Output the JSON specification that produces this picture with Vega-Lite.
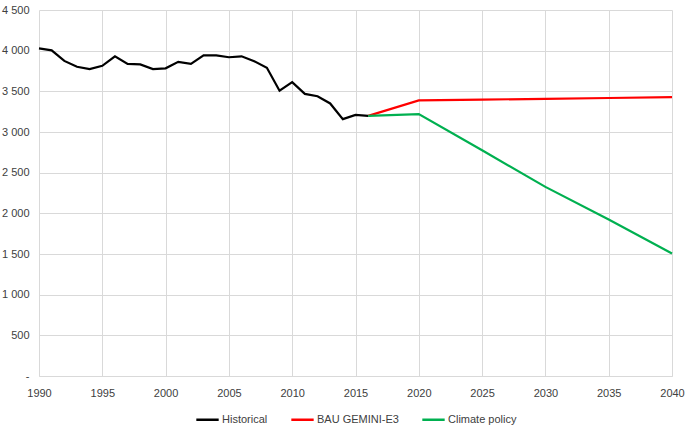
{
  "$schema": "https://vega.github.io/schema/vega-lite/v6.json",
  "width": 685,
  "height": 425,
  "autosize": {"type": "fit", "contains": "padding"},
  "padding": {"left": 1, "top": 4, "right": 0, "bottom": 0},
  "background": "white",
  "config": {
    "font": "Liberation Sans",
    "view": {"stroke": null},
    "legend": {"layout": {"bottom": {"anchor": "middle"}}}
  },
  "data": {
    "values": [
      {"year": 1990, "value": 4028, "series": "Historical"},
      {"year": 1991, "value": 4004, "series": "Historical"},
      {"year": 1992, "value": 3874, "series": "Historical"},
      {"year": 1993, "value": 3802, "series": "Historical"},
      {"year": 1994, "value": 3774, "series": "Historical"},
      {"year": 1995, "value": 3814, "series": "Historical"},
      {"year": 1996, "value": 3931, "series": "Historical"},
      {"year": 1997, "value": 3838, "series": "Historical"},
      {"year": 1998, "value": 3831, "series": "Historical"},
      {"year": 1999, "value": 3774, "series": "Historical"},
      {"year": 2000, "value": 3783, "series": "Historical"},
      {"year": 2001, "value": 3862, "series": "Historical"},
      {"year": 2002, "value": 3838, "series": "Historical"},
      {"year": 2003, "value": 3943, "series": "Historical"},
      {"year": 2004, "value": 3943, "series": "Historical"},
      {"year": 2005, "value": 3919, "series": "Historical"},
      {"year": 2006, "value": 3931, "series": "Historical"},
      {"year": 2007, "value": 3871, "series": "Historical"},
      {"year": 2008, "value": 3790, "series": "Historical"},
      {"year": 2009, "value": 3508, "series": "Historical"},
      {"year": 2010, "value": 3613, "series": "Historical"},
      {"year": 2011, "value": 3469, "series": "Historical"},
      {"year": 2012, "value": 3440, "series": "Historical"},
      {"year": 2013, "value": 3351, "series": "Historical"},
      {"year": 2014, "value": 3158, "series": "Historical"},
      {"year": 2015, "value": 3210, "series": "Historical"},
      {"year": 2016, "value": 3198, "series": "Historical"},
      {"year": 2016, "value": 3198, "series": "BAU GEMINI-E3"},
      {"year": 2020, "value": 3388, "series": "BAU GEMINI-E3"},
      {"year": 2025, "value": 3398, "series": "BAU GEMINI-E3"},
      {"year": 2030, "value": 3408, "series": "BAU GEMINI-E3"},
      {"year": 2035, "value": 3418, "series": "BAU GEMINI-E3"},
      {"year": 2040, "value": 3428, "series": "BAU GEMINI-E3"},
      {"year": 2016, "value": 3198, "series": "Climate policy"},
      {"year": 2020, "value": 3220, "series": "Climate policy"},
      {"year": 2025, "value": 2775, "series": "Climate policy"},
      {"year": 2030, "value": 2325, "series": "Climate policy"},
      {"year": 2035, "value": 1923, "series": "Climate policy"},
      {"year": 2040, "value": 1507, "series": "Climate policy"}
    ]
  },
  "mark": {"type": "line", "strokeWidth": 2.2},
  "encoding": {
    "x": {
      "field": "year",
      "type": "quantitative",
      "scale": {"domain": [1990, 2040], "nice": false, "zero": false},
      "axis": {
        "title": null,
        "values": [1990, 1995, 2000, 2005, 2010, 2015, 2020, 2025, 2030, 2035, 2040],
        "format": "d",
        "grid": true,
        "gridColor": "#d9d9d9",
        "gridWidth": 1,
        "domain": true,
        "domainColor": "#d9d9d9",
        "ticks": false,
        "labelColor": "#404040",
        "labelFontSize": 11,
        "labelPadding": 11,
        "labelFlush": false
      }
    },
    "y": {
      "field": "value",
      "type": "quantitative",
      "scale": {"domain": [0, 4500], "nice": false},
      "axis": {
        "title": null,
        "values": [0, 500, 1000, 1500, 2000, 2500, 3000, 3500, 4000, 4500],
        "labelExpr": "datum.value == 0 ? '-' : replace(format(datum.value, ','), ',', ' ')",
        "grid": true,
        "gridColor": "#d9d9d9",
        "gridWidth": 1,
        "domain": false,
        "ticks": false,
        "labelColor": "#404040",
        "labelFontSize": 11,
        "labelPadding": 10
      }
    },
    "color": {
      "field": "series",
      "type": "nominal",
      "sort": ["Historical", "BAU GEMINI-E3", "Climate policy"],
      "scale": {
        "domain": ["Historical", "BAU GEMINI-E3", "Climate policy"],
        "range": ["#000000", "#ff0000", "#00b050"]
      },
      "legend": {
        "title": null,
        "orient": "bottom",
        "direction": "horizontal",
        "symbolType": "stroke",
        "symbolStrokeWidth": 2.5,
        "symbolSize": 500,
        "labelFontSize": 11,
        "labelColor": "#404040",
        "columnPadding": 18,
        "labelOffset": 2,
        "offset": 9
      }
    }
  }
}
